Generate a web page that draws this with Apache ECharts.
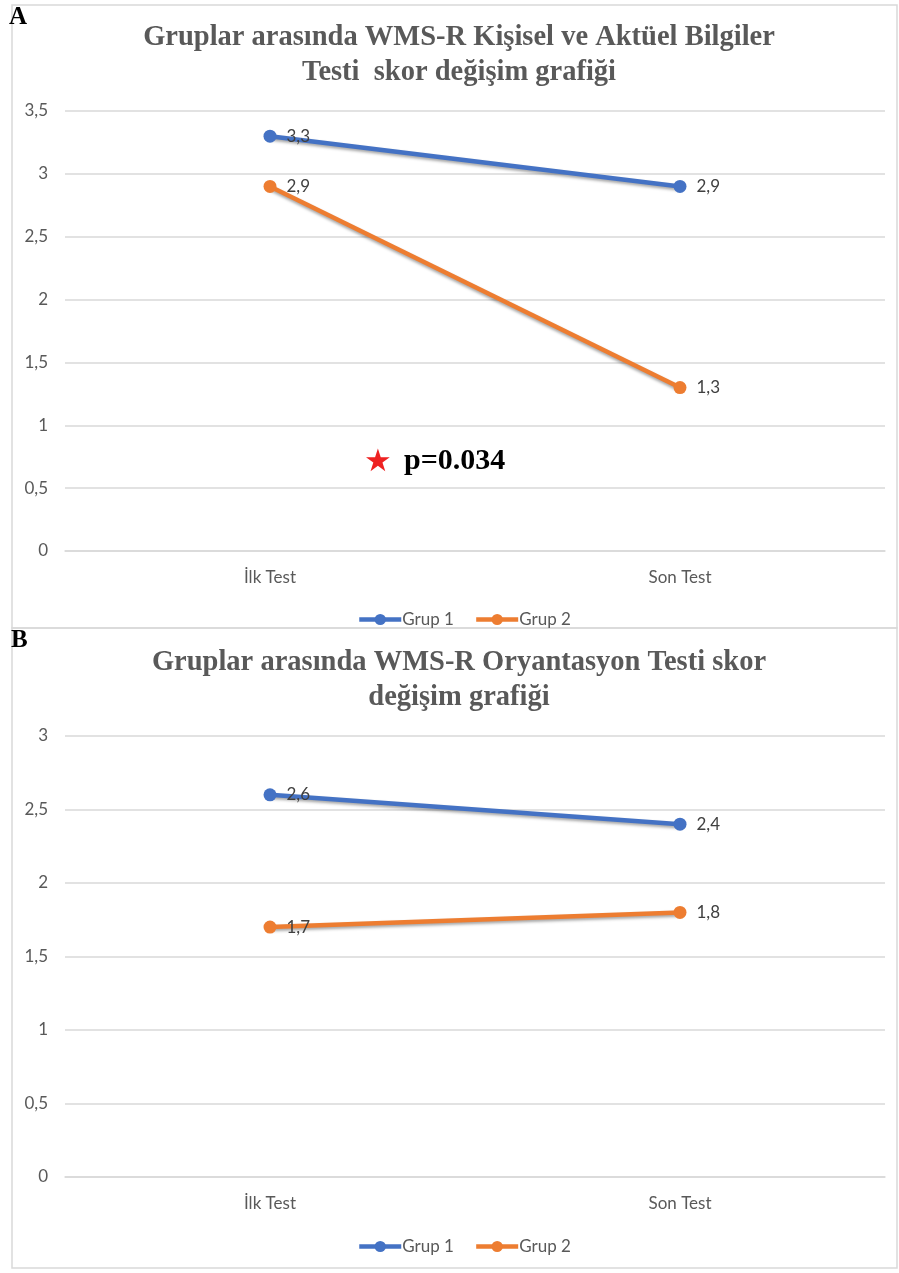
<!DOCTYPE html>
<html>
<head>
<meta charset="utf-8">
<script src="https://cdn.jsdelivr.net/npm/echarts@6/dist/echarts.min.js"></script>
<style>
  html, body { margin: 0; padding: 0; background: #fff; }
  #chart { width: 899px; height: 1273px; }
</style>
</head>
<body>
<div id="chart"></div>
<script>
// Test sessions on the x axis
const categories = ['İlk Test', 'Son Test'];
const seriesNames = ['Grup 1', 'Grup 2'];

// Panel A: WMS-R Kişisel ve Aktüel Bilgiler
const panelA_grup1 = [3.3, 2.9];
const panelA_grup2 = [2.9, 1.3];
const panelA_yMax = 3.5;

// Panel B: WMS-R Oryantasyon
const panelB_grup1 = [2.6, 2.4];
const panelB_grup2 = [1.7, 1.8];
const panelB_yMax = 3;

const titleA = ['Gruplar arasında WMS-R Kişisel ve Aktüel Bilgiler', 'Testi  skor değişim grafiği'];
const titleB = ['Gruplar arasında WMS-R Oryantasyon Testi skor', 'değişim grafiği'];
const pValueText = 'p=0.034';

const BLUE = '#4472C4';
const ORANGE = '#ED7D31';
const GRID_GRAY = '#d9d9d9';
const TEXT_GRAY = '#595959';
const SANS = 'Lato, "Open Sans", sans-serif';
const SERIF = '"Liberation Serif", "DejaVu Serif", serif';

const comma = v => String(v).replace('.', ',');

function lineSeries(name, data, color, idx) {
  return {
    type: 'line',
    name: name,
    data: data,
    xAxisIndex: idx,
    yAxisIndex: idx,
    symbol: 'circle',
    symbolSize: 13,
    itemStyle: { color: color },
    lineStyle: {
      color: color, width: 4.5,
      shadowColor: 'rgba(0,0,0,0.35)', shadowBlur: 3, shadowOffsetY: 2
    },
    label: {
      show: true, position: 'right', distance: 10,
      color: '#404040', fontSize: 17, fontFamily: SANS,
      formatter: p => comma(p.value)
    },
    emphasis: { disabled: true },
    animation: false
  };
}

function xAxis(idx) {
  return {
    type: 'category', gridIndex: idx, data: categories, boundaryGap: true,
    axisLine: { show: true, lineStyle: { color: GRID_GRAY, width: 1.5 } },
    axisTick: { show: false },
    axisLabel: { color: TEXT_GRAY, fontSize: 17, fontFamily: SANS, margin: 18 }
  };
}

function yAxis(idx, max) {
  return {
    type: 'value', gridIndex: idx, min: 0, max: max, interval: 0.5,
    axisLine: { show: false }, axisTick: { show: false },
    splitLine: { lineStyle: { color: GRID_GRAY, width: 1.5 } },
    axisLabel: { color: TEXT_GRAY, fontSize: 17, fontFamily: SANS, margin: 17, formatter: v => comma(v) }
  };
}

function titleText(lines, y0) {
  return lines.map((t, i) => ({
    type: 'text', x: 459, y: y0 + i * 35,
    style: {
      text: t, x: 0, y: 0, textAlign: 'center', textVerticalAlign: 'middle',
      font: 'bold 28.5px ' + SERIF, fill: TEXT_GRAY
    }
  }));
}

const legendCommon = {
  data: seriesNames,
  left: 352,
  itemWidth: 42, itemHeight: 14, itemGap: 20,
  lineStyle: { width: 4.5 },
  textStyle: { color: TEXT_GRAY, fontSize: 17, fontFamily: SANS, padding: [0, 0, 0, -4] },
  selectedMode: false
};

const chart = echarts.init(document.getElementById('chart'), null, { renderer: 'canvas' });
chart.setOption({
  backgroundColor: '#fff',
  animation: false,
  grid: [
    { left: 65, right: 14, top: 111, bottom: 1273 - 551 },
    { left: 65, right: 14, top: 736, bottom: 1273 - 1177 }
  ],
  xAxis: [xAxis(0), xAxis(1)],
  yAxis: [yAxis(0, panelA_yMax), yAxis(1, panelB_yMax)],
  legend: [
    Object.assign({ top: 606 }, legendCommon),
    Object.assign({ top: 1233 }, legendCommon)
  ],
  series: [
    lineSeries(seriesNames[0], panelA_grup1, BLUE, 0),
    lineSeries(seriesNames[1], panelA_grup2, ORANGE, 0),
    lineSeries(seriesNames[0], panelB_grup1, BLUE, 1),
    lineSeries(seriesNames[1], panelB_grup2, ORANGE, 1)
  ],
  graphic: [
    // panel frames
    { type: 'rect', shape: { x: 12, y: 5, width: 885, height: 623 }, style: { fill: 'none', stroke: GRID_GRAY, lineWidth: 1.5 }, z: -1 },
    { type: 'rect', shape: { x: 12, y: 628, width: 885, height: 640 }, style: { fill: 'none', stroke: GRID_GRAY, lineWidth: 1.5 }, z: -1 },
    // panel letters
    { type: 'text', x: 9, y: 5, style: { text: 'A', font: 'bold 25px ' + SERIF, fill: '#000' } },
    { type: 'text', x: 11, y: 628, style: { text: 'B', font: 'bold 25px ' + SERIF, fill: '#000' } },
    // significance note
    { type: 'text', x: 364, y: 447, style: { text: '★', font: '31px "DejaVu Sans"', fill: '#ee2222' } },
    { type: 'text', x: 404, y: 446, style: { text: pValueText, font: 'bold 30px ' + SERIF, fill: '#000' } }
  ].concat(titleText(titleA, 38), titleText(titleB, 663))
});
</script>
</body>
</html>
